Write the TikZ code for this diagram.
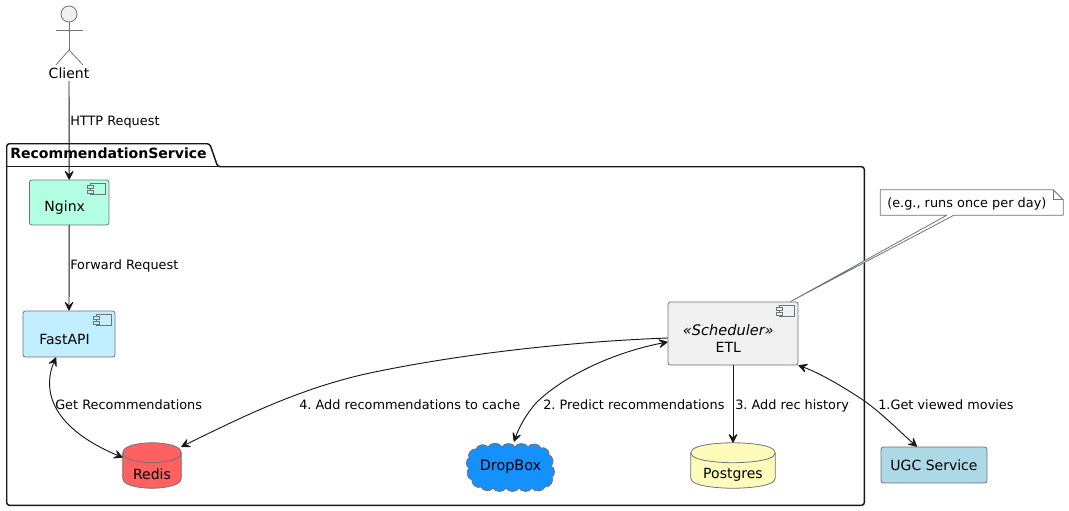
\documentclass[tikz,border=0pt]{standalone}
\usepackage{fontspec}
\setmainfont{DejaVu Sans}
\usetikzlibrary{arrows.meta,calc}
\definecolor{ink}{HTML}{181818}
\definecolor{edge}{HTML}{6E7478}
\definecolor{nginxc}{HTML}{B2FFE3}
\definecolor{fastc}{HTML}{C1EFFF}
\definecolor{etlc}{HTML}{F1F1F1}
\definecolor{ugcc}{HTML}{ADD8E6}
\definecolor{redisc}{HTML}{FF6060}
\definecolor{pgc}{HTML}{FFFBBB}
\definecolor{dropc}{HTML}{1490FF}
\newcommand{\fsA}{\fontsize{9.65}{12.75}\selectfont}
\newcommand{\fsB}{\fontsize{10.5}{12.75}\selectfont}
\newcommand{\boxtext}[2]{\raisebox{-#1}[0pt][0pt]{#2}}
\frenchspacing
\pgfdeclarelayer{back}\pgfsetlayers{back,main}
\tikzset{
  x=0.75pt,y=-0.75pt,
  conn/.style={draw=ink,line width=0.7pt,line cap=round},
  tipb/.style={conn,{Stealth[length=8pt,width=8pt,inset=3.6pt,round]}-{Stealth[length=8pt,width=8pt,inset=3.6pt,round]}},
  tipe/.style={conn,-{Stealth[length=8pt,width=8pt,inset=3.6pt,round]}},
  comp/.style={draw=edge,line width=0.6pt,rounded corners=1.8pt,inner sep=0pt,font=\fsB},
  lbl/.style={anchor=base west,inner sep=0pt,font=\fsA,text=black},
  shapeedge/.style={draw=edge,line width=0.6pt},
  cylbox/.style={inner sep=0pt,font=\fsB},
}
\newcommand{\compicon}[2]{%
  \draw[shapeedge,fill=#2] ($(#1.north east)+(-19,4)$) rectangle ($(#1.north east)+(-4,15)$);
  \draw[shapeedge,fill=#2] ($(#1.north east)+(-22,6)$) rectangle ($(#1.north east)+(-16,9)$);
  \draw[shapeedge,fill=#2] ($(#1.north east)+(-22,10.5)$) rectangle ($(#1.north east)+(-16,13.5)$);
}
\newcommand{\cylshape}[2]{%
  \begin{pgfonlayer}{back}
  \draw[shapeedge,fill=#2]
    ($(#1.north west)+(0,10)$) .. controls (#1.north west) and (#1.north) .. (#1.north)
    .. controls (#1.north) and (#1.north east) .. ($(#1.north east)+(0,10)$)
    -- ($(#1.south east)+(0,-10)$)
    .. controls (#1.south east) and (#1.south) .. (#1.south)
    .. controls (#1.south) and (#1.south west) .. ($(#1.south west)+(0,-10)$)
    -- cycle;
  \draw[shapeedge]
    ($(#1.north west)+(0,10)$) .. controls ($(#1.north west)+(0,20)$) and ($(#1.north)+(0,20)$) .. ($(#1.north)+(0,20)$)
    .. controls ($(#1.north)+(0,20)$) and ($(#1.north east)+(0,20)$) .. ($(#1.north east)+(0,10)$);
  \end{pgfonlayer}
}
\begin{document}
\begin{tikzpicture}
\useasboundingbox (0,0) rectangle (1069,510);

% package
\node[inner sep=0pt,minimum width=857*0.75pt,minimum height=338*0.75pt] (pkg) at (435.5,336) {};
\begin{pgfonlayer}{back}
\draw[ink,line width=1.1pt,rounded corners=2pt,line join=round]
  (pkg.north west) -- ($(pkg.north west)+(0,-23)$) -- ($(pkg.north west)+(203,-23)$)
  -- ($(pkg.north west)+(211,0)$) -- (pkg.north east) -- (pkg.south east) -- (pkg.south west) -- cycle;
\draw[ink,line width=1.1pt] (pkg.north west) -- ($(pkg.north west)+(211,0)$);
\end{pgfonlayer}
\node[anchor=base west,inner sep=0pt,font=\fontsize{10.55}{12.75}\selectfont\bfseries] (pkgtitle) at (10,158) {RecommendationService};

% actor
\node[circle,draw=edge,fill=etlc,line width=0.6pt,minimum size=16*0.75pt,inner sep=0pt] (head) at (69,14) {};
\coordinate (hip) at (69,50);
\coordinate (armL) at (56,30);
\coordinate (armR) at (83,30);
\coordinate (footL) at (56,65);
\coordinate (footR) at (83,65);
\draw[edge,line width=0.6pt] (head.south) -- (hip);
\draw[edge,line width=0.6pt] (armL) -- (armR);
\draw[edge,line width=0.6pt] (footL) -- (hip) -- (footR);
\node[inner sep=0pt,font=\fsB,minimum height=16*0.75pt] (client) at (69,73) {Client};

% components
\node[comp,minimum width=79.5*0.75pt,minimum height=45*0.75pt,fill=nginxc] (nginx) at (69.2,202.5) {\boxtext{7.1pt}{Nginx\hspace*{6.75pt}}};
\node[comp,minimum width=92*0.75pt,minimum height=46*0.75pt,fill=fastc] (fastapi) at (69,334) {\boxtext{7.5pt}{FastAPI\hspace*{6.75pt}}};
\node[comp,minimum width=130*0.75pt,minimum height=63*0.75pt,fill=etlc] (etl) at (733,333.5) {\boxtext{8.1pt}{\begin{tabular}{@{}c@{}}{\fontsize{10.9}{12.75}\selectfont\textit{«Scheduler»}}\\ETL\end{tabular}\hspace*{7pt}}};
\node[comp,minimum width=106*0.75pt,minimum height=36*0.75pt,fill=ugcc] (ugc) at (934,465) {UGC Service};
\compicon{nginx}{nginxc}
\compicon{fastapi}{fastc}
\compicon{etl}{etlc}

% databases
\node[cylbox,minimum width=58*0.75pt,minimum height=45*0.75pt] (redis) at (152,465.5) {\boxtext{10.7pt}{Redis}};
\cylshape{redis}{redisc}
\node[cylbox,minimum width=84*0.75pt,minimum height=45*0.75pt] (postgres) at (733,465.5) {\boxtext{10pt}{Postgres}};
\cylshape{postgres}{pgc}

% cloud
\node[inner sep=0pt,font=\fontsize{10.8}{12.75}\selectfont,minimum width=89*0.75pt,minimum height=49*0.75pt] (dropbox) at (510.5,466.5) {DropBox};
\begin{pgfonlayer}{back}
\draw[shapeedge,fill=dropc] (476,449)
  to[bend left=65] (488,447) to[bend left=65] (502,447) to[bend left=65] (515,447)
  to[bend left=65] (528,447) to[bend left=65] (541,448) to[bend left=65] (549,455)
  to[bend left=65] (551,466) to[bend left=65] (552,477) to[bend left=65] (545,487)
  to[bend left=65] (532,488) to[bend left=65] (519,488) to[bend left=65] (506,488)
  to[bend left=65] (493,488) to[bend left=65] (481,487) to[bend left=65] (472,480)
  to[bend left=65] (469,468) to[bend left=65] (469,458) to[bend left=65] cycle;
\end{pgfonlayer}

% note
\node[inner sep=0pt,minimum width=182.5*0.75pt,minimum height=25*0.75pt] (note) at (971.75,202.5) {};
\node[lbl] (notetext) at (887,207) {(e.g., runs once per day)};
\begin{pgfonlayer}{back}
\draw[shapeedge,fill=white,line join=round]
  (note.north west) -- ($(note.north east)+(-10,0)$) -- ($(note.north east)+(0,10)$)
  -- (note.south east) -- ($(note.south west)+(73.5,0)$) -- ($(etl.north east)+(-8,0)$)
  -- ($(note.south west)+(66.5,0)$) -- (note.south west) -- cycle;
\draw[shapeedge] ($(note.north east)+(-10,0)$) -- ($(note.north east)+(-10,10)$) -- ($(note.north east)+(0,10)$);
\end{pgfonlayer}

% connectors
\draw[tipe] (client.south) -- (nginx.north);
\draw[tipe] (nginx.south) -- (fastapi.north);
\draw[tipb] ($(fastapi.south)+(-13,0)$) .. controls (44,385) and (45,425) .. ($(redis.west)+(0,-8)$);
\draw[tipe] ($(etl.west)+(0,4.5)$) .. controls (560,342) and (450,356) .. (370,373) .. controls (300,388) and (240,418) .. ($(redis.north east)+(0,4)$);
\draw[tipb] ($(etl.west)+(0,8.5)$) .. controls (615,352) and (565,375) .. (537,402) .. controls (525,415) and (518,430) .. ($(dropbox.north)+(3.5,0)$);
\draw[tipe] (etl.south) -- (postgres.north);
\draw[tipb] (etl.south east) .. controls (820,373) and (845,388) .. (863,400) .. controls (883,414) and (900,432) .. ($(ugc.north)+(-17,0)$);

% labels
\node[lbl] (l1) at (70,125) {HTTP Request};
\node[lbl] (l2) at (70,269) {Forward Request};
\node[lbl] (l3) at (55,409) {Get Recommendations};
\node[lbl] (l4) at (299,409) {4. Add recommendations to cache};
\node[lbl] (l5) at (543,409) {2. Predict recommendations};
\node[lbl] (l6) at (735,409) {3. Add rec history};
\node[lbl] (l7) at (878,409) {1.Get viewed movies};
\end{tikzpicture}
\end{document}
